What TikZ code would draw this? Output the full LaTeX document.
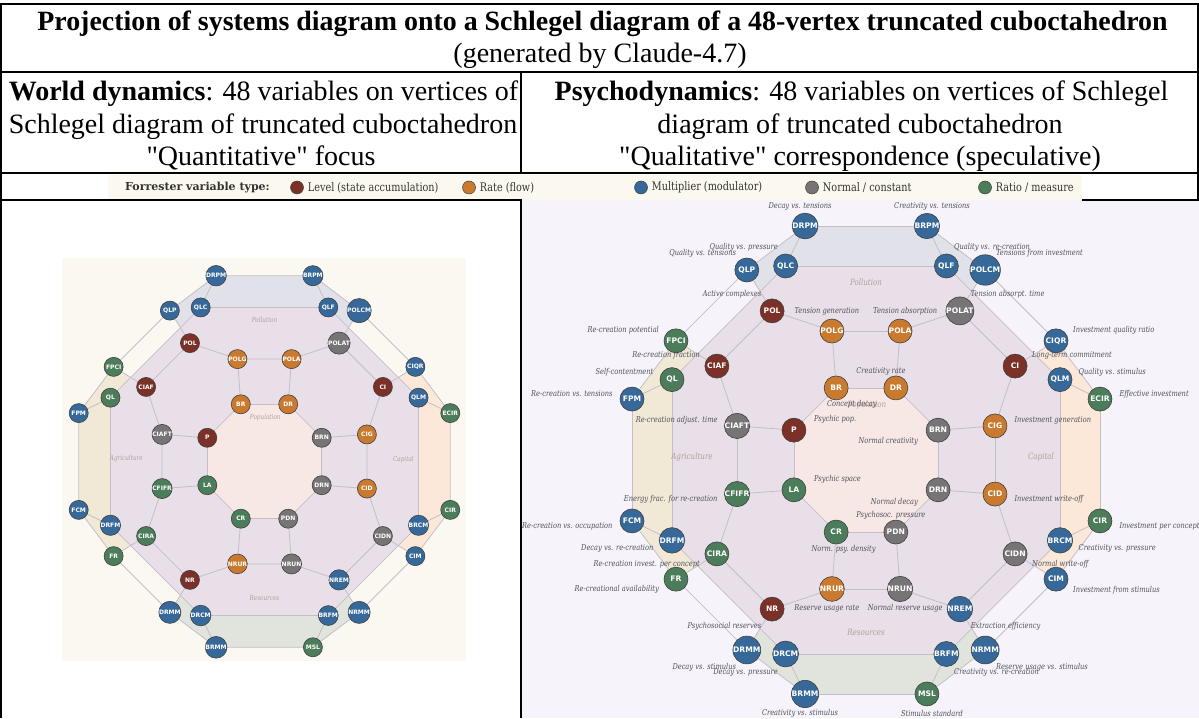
\documentclass[tikz,border=0pt]{standalone}
\usepackage{fontspec}
\setmainfont{Liberation Serif}[Ligatures=TeXOff]
\newfontfamily\lblfont{DejaVu Serif}[FakeStretch=0.82]
\newfontfamily\legfont{DejaVu Serif}
\newfontfamily\varfont{DejaVu Sans}
\usetikzlibrary{positioning,calc}
\definecolor{levelc}{HTML}{7B3128}
\definecolor{ratec}{HTML}{C97A2E}
\definecolor{multc}{HTML}{36699A}
\definecolor{normc}{HTML}{767474}
\definecolor{ratioc}{HTML}{4B7D5A}
\definecolor{rightbg}{HTML}{F6F4FA}
\definecolor{leftbg}{HTML}{FBF8F1}
\definecolor{legbg}{HTML}{FBF8EF}
\definecolor{pollfill}{HTML}{E1E2E9}
\definecolor{capfill}{HTML}{FBE8D8}
\definecolor{resfill}{HTML}{E1E4DD}
\definecolor{agrfill}{HTML}{F1E9D6}
\definecolor{midfill}{HTML}{E8DFE9}
\definecolor{popfill}{HTML}{F8E8E5}
\definecolor{linkc}{HTML}{C4BFC6}
\definecolor{lblc}{HTML}{4F4F5C}
\definecolor{sectc}{HTML}{B0A199}

\pgfdeclarelayer{regions}
\pgfdeclarelayer{links}
\pgfsetlayers{regions,links,main}

\tikzset{
  var/.style={circle, draw=black!75, line width=0.6pt, minimum size=24pt, inner sep=0pt,
    text=white, font=\varfont\bfseries\fontsize{7.6}{8}\selectfont},
  levelvar/.style={var, fill=levelc},
  ratevar/.style={var, fill=ratec},
  multvar/.style={var, fill=multc},
  normvar/.style={var, fill=normc},
  ratiovar/.style={var, fill=ratioc},
  edgeline/.style={draw=linkc, line width=0.8pt},
  vlabel/.style={font=\lblfont\itshape\fontsize{8.1}{9}\selectfont, text=lblc, inner sep=0pt},
  sector/.style={font=\lblfont\itshape\fontsize{8.7}{10}\selectfont, text=sectc, inner sep=0pt},
  tableline/.style={line width=1.5pt},
  headfont/.style={font=\fontsize{28}{33}\selectfont, inner sep=0pt},
  titlefont/.style={font=\bfseries\fontsize{27.9}{33}\selectfont, inner sep=0pt},
  legdot/.style={circle, draw=black!75, line width=0.5pt, minimum size=13pt, inner sep=0pt},
  legtext/.style={font=\lblfont\fontsize{11.8}{13}\selectfont, text=black!80, inner sep=0pt},
}

% the 48 vertices, their links and the sector areas
\newcommand{\schlegelgraph}{%
  \coordinate (O) at (0,0);
  \foreach \n/\a/\r/\s in {
      BR/112.5/78/ratevar, DR/67.5/78/ratevar, BRN/22.5/78/normvar, DRN/-22.5/78/normvar,
      PDN/-67.5/78/normvar, CR/-112.5/78/ratiovar, LA/-157.5/78/ratiovar, P/157.5/78/levelvar,
      POLG/104.8/133.4/ratevar, POLA/75.2/133.4/ratevar, CIG/14.8/133.4/ratevar, CID/-14.8/133.4/ratevar,
      NRUN/-75.2/133.4/normvar, NRUR/-104.8/133.4/ratevar, CFIFR/-165.2/133.4/ratiovar, CIAFT/165.2/133.4/normvar,
      POL/122.2/176.2/levelvar, POLAT/57.8/176.2/normvar, CI/32.2/176.2/levelvar, CIDN/-32.2/176.2/normvar,
      NREM/-57.8/176.2/multvar, NR/-122.2/176.2/levelvar, CIRA/-147.8/176.2/ratiovar, CIAF/147.8/176.2/levelvar,
      QLC/112.5/210/multvar, QLF/67.5/210/multvar, QLM/22.5/210/multvar, BRCM/-22.5/210/multvar,
      BRFM/-67.5/210/multvar, DRCM/-112.5/210/multvar, DRFM/-157.5/210/multvar, QL/157.5/210/ratiovar,
      DRPM/104.6/241.8/multvar, BRPM/75.4/241.8/multvar, ECIR/14.6/241.8/ratiovar, CIR/-14.6/241.8/ratiovar,
      MSL/-75.4/241.8/ratiovar, BRMM/-104.6/241.8/multvar, FCM/-165.4/241.8/multvar, FPM/165.4/241.8/multvar,
      QLP/122.1/224.3/multvar, POLCM/57.9/224.3/multvar, CIQR/32.1/224.3/multvar, CIM/-32.1/224.3/multvar,
      NRMM/-57.9/224.3/multvar, DRMM/-122.1/224.3/multvar, FR/-147.9/224.3/ratiovar, FPCI/147.9/224.3/ratiovar}
    \node[\s] (\n) at (\a:\r) {\n};
  % sector areas
  \begin{pgfonlayer}{regions}
    \fill[pollfill] (DRPM.center) -- (BRPM.center) -- (POLCM.center) -- (106,168) -- (QLF.center)
      -- (QLC.center) -- (-106,168) -- (QLP.center) -- cycle;
    \fill[capfill] (ECIR.center) -- (CIR.center) -- (CIM.center) -- (168,-106) -- (BRCM.center)
      -- (QLM.center) -- (168,106) -- (CIQR.center) -- cycle;
    \fill[resfill] (MSL.center) -- (BRMM.center) -- (DRMM.center) -- (-106,-168) -- (DRCM.center)
      -- (BRFM.center) -- (106,-168) -- (NRMM.center) -- cycle;
    \fill[agrfill] (FPM.center) -- (FCM.center) -- (FR.center) -- (-168,-106) -- (DRFM.center)
      -- (QL.center) -- (-168,106) -- (FPCI.center) -- cycle;
    \fill[midfill] (QLC.center) -- (QLF.center) -- (QLM.center) -- (BRCM.center) -- (BRFM.center)
      -- (DRCM.center) -- (DRFM.center) -- (QL.center) -- cycle;
    \fill[popfill] (BR.center) -- (DR.center) -- (BRN.center) -- (DRN.center) -- (PDN.center)
      -- (CR.center) -- (LA.center) -- (P.center) -- cycle;
  \end{pgfonlayer}
  % links
  \begin{pgfonlayer}{links}
    \foreach \a/\b in {BR/DR, DR/BRN, BRN/DRN, DRN/PDN, PDN/CR, CR/LA, LA/P, P/BR,
        BR/POLG, DR/POLA, BRN/CIG, DRN/CID, PDN/NRUN, CR/NRUR, LA/CFIFR, P/CIAFT,
        POLG/POLA, CIG/CID, NRUN/NRUR, CFIFR/CIAFT,
        POLG/POL, POLA/POLAT, CIG/CI, CID/CIDN, NRUN/NREM, NRUR/NR, CFIFR/CIRA, CIAFT/CIAF,
        POL/CIAF, POLAT/CI, CIDN/NREM, NR/CIRA,
        POL/QLP, POLAT/POLCM, CI/CIQR, CIDN/CIM, NREM/NRMM, NR/DRMM, CIRA/FR, CIAF/FPCI,
        QLC/QLF, QLF/QLM, QLM/BRCM, BRCM/BRFM, BRFM/DRCM, DRCM/DRFM, DRFM/QL, QL/QLC,
        DRPM/BRPM, ECIR/CIR, MSL/BRMM, FCM/FPM,
        DRPM/QLC, BRPM/QLF, ECIR/QLM, CIR/BRCM, MSL/BRFM, BRMM/DRCM, FCM/DRFM, FPM/QL,
        DRPM/QLP, BRPM/POLCM, ECIR/CIQR, CIR/CIM, MSL/NRMM, BRMM/DRMM, FCM/FR, FPM/FPCI,
        QLP/FPCI, POLCM/CIQR, CIM/NRMM, DRMM/FR}
      \draw[edgeline] (\a) -- (\b);
  \end{pgfonlayer}
  % sector names
  \node[sector] (s-pol) at (0,178) {Pollution};
  \node[sector] (s-pop) at (1,55) {Population};
  \node[sector] (s-agr) at (-174,3) {Agriculture};
  \node[sector] (s-cap) at (175,3) {Capital};
  \node[sector] (s-res) at (0,-172) {Resources};
}

% psychodynamic names of the vertices
\newcommand{\psychlabels}{%
  \foreach \n/\anc/\t in {
      DRPM/center/Decay vs. tensions, BRPM/center/Creativity vs. tensions,
      QLC/east/Quality vs. pressure, QLP/east/Quality vs. tensions,
      QLF/west/Quality vs. re-creation, POLCM/west/Tensions from investment,
      POL/east/Active complexes, POLAT/west/Tension absorpt. time,
      POLG/center/Tension generation, POLA/center/Tension absorption,
      FPCI/east/Re-creation potential, CIQR/west/Investment quality ratio,
      CIAF/east/Re-creation fraction, CI/west/Long-term commitment,
      QL/east/Self-contentment, QLM/west/Quality vs. stimulus,
      FPM/east/Re-creation vs. tensions, ECIR/west/Effective investment,
      CIAFT/east/Re-creation adjust. time, CIG/west/Investment generation,
      CFIFR/east/Energy frac. for re-creation, CID/west/Investment write-off,
      FCM/east/Re-creation vs. occupation, CIR/west/Investment per concept,
      DRFM/east/Decay vs. re-creation, BRCM/west/Creativity vs. pressure,
      CIRA/east/Re-creation invest. per concept, CIDN/west/Normal write-off,
      FR/east/Re-creational availability, CIM/west/Investment from stimulus,
      NRUR/center/Reserve usage rate, NRUN/center/Normal reserve usage,
      NR/east/Psychosocial reserves, NREM/west/Extraction efficiency,
      DRMM/east/Decay vs. stimulus, NRMM/west/Reserve usage vs. stimulus,
      DRCM/east/Decay vs. pressure, BRFM/west/Creativity vs. re-creation,
      BRMM/center/Creativity vs. stimulus, MSL/center/Stimulus standard}
    \node[vlabel, anchor=\anc] (\n-l) at ($(\n)!-20pt!(O)$) {\t};
  \foreach \n/\anc/\dx/\dy/\t in {
      BR/west/20/17/Creativity rate, DR/east/-19/-16/Concept decay,
      P/west/20/11/Psychic pop., BRN/east/-20/-11/Normal creativity,
      LA/west/20/11/Psychic space, DRN/east/-20/-12/Normal decay,
      CR/west/20/17/Psychosoc. pressure, PDN/east/-20/-17/Norm. psy. density}
    \node[vlabel, anchor=\anc] (\n-l) at ($(\n)+(\dx,\dy)$) {\t};
}

\begin{document}
\begin{tikzpicture}[x=1pt, y=1pt]
  \useasboundingbox (0,0) rectangle (1199,718);
  \begin{pgfonlayer}{regions}
    \fill[white] (0,0) rectangle (1199,718);
    \fill[rightbg] (522,0) rectangle (1199,518);
    \fill[leftbg] (62,57) rectangle (466,460);
  \end{pgfonlayer}

  % Title
  \node[titlefont, anchor=base] (title) at (602.5,687)
    {Projection of systems diagram onto a Schlegel diagram of a 48-vertex truncated cuboctahedron};
  \node[headfont, anchor=base] (gen) at (600,655) {(generated by Claude-4.7)};

  % Column heads
  \node[headfont, anchor=base] (wd1) at (263.5,617) {\textbf{World dynamics}: 48 variables on vertices of};
  \node[headfont, anchor=base] (wd2) at (263,584) {Schlegel diagram of truncated cuboctahedron};
  \node[headfont, anchor=base] (wd3) at (261,552) {"Quantitative" focus};
  \node[headfont, anchor=base] (pd1) at (861.5,617) {\textbf{Psychodynamics}: 48 variables on vertices of Schlegel};
  \node[headfont, anchor=base] (pd2) at (860,584) {diagram of truncated cuboctahedron};
  \node[headfont, anchor=base] (pd3) at (860,552) {"Qualitative" correspondence (speculative)};

  % Legend
  \fill[legbg] (108,518) rectangle (1082,543);
  \node[legtext, font=\legfont\bfseries\fontsize{11}{13}\selectfont, anchor=west] (legtitle) at (125,530.5) {Forrester variable type:};
  \node[legdot, fill=levelc] (lg1) at (297,530.5) {};
  \node[legtext, right=4pt of lg1] (lg1t) {Level (state accumulation)};
  \node[legdot, fill=ratec] (lg2) at (469,530.5) {};
  \node[legtext, right=4pt of lg2] (lg2t) {Rate (flow)};
  \node[legdot, fill=multc] (lg3) at (641,530.5) {};
  \node[legtext, right=4pt of lg3] (lg3t) {Multiplier (modulator)};
  \node[legdot, fill=normc] (lg4) at (812,530.5) {};
  \node[legtext, right=4pt of lg4] (lg4t) {Normal / constant};
  \node[legdot, fill=ratioc] (lg5) at (985,530.5) {};
  \node[legtext, right=4pt of lg5] (lg5t) {Ratio / measure};

  % World dynamics (left)
  \begin{scope}[shift={(264.5,256.5)}, scale=0.794, transform shape, name prefix=W-]
    \schlegelgraph
  \end{scope}

  % Psychodynamics (right)
  \begin{scope}[name prefix=R-]
    \clip (522,0) rectangle (1199,518);
    \begin{scope}[shift={(866,258)}]
      \schlegelgraph
      \psychlabels
    \end{scope}
  \end{scope}

  % Table rules
  \draw[tableline] (1,0) -- (1,714) -- (1198,714) -- (1198,518);
  \draw[tableline] (0,646) -- (1199,646);
  \draw[tableline] (0,545) -- (1199,545);
  \draw[tableline] (0,518) -- (522,518);
  \draw[tableline] (1082,518) -- (1199,518);
  \draw[tableline] (521,646) -- (521,545);
  \draw[tableline] (521,518) -- (521,0);
\end{tikzpicture}
\end{document}
